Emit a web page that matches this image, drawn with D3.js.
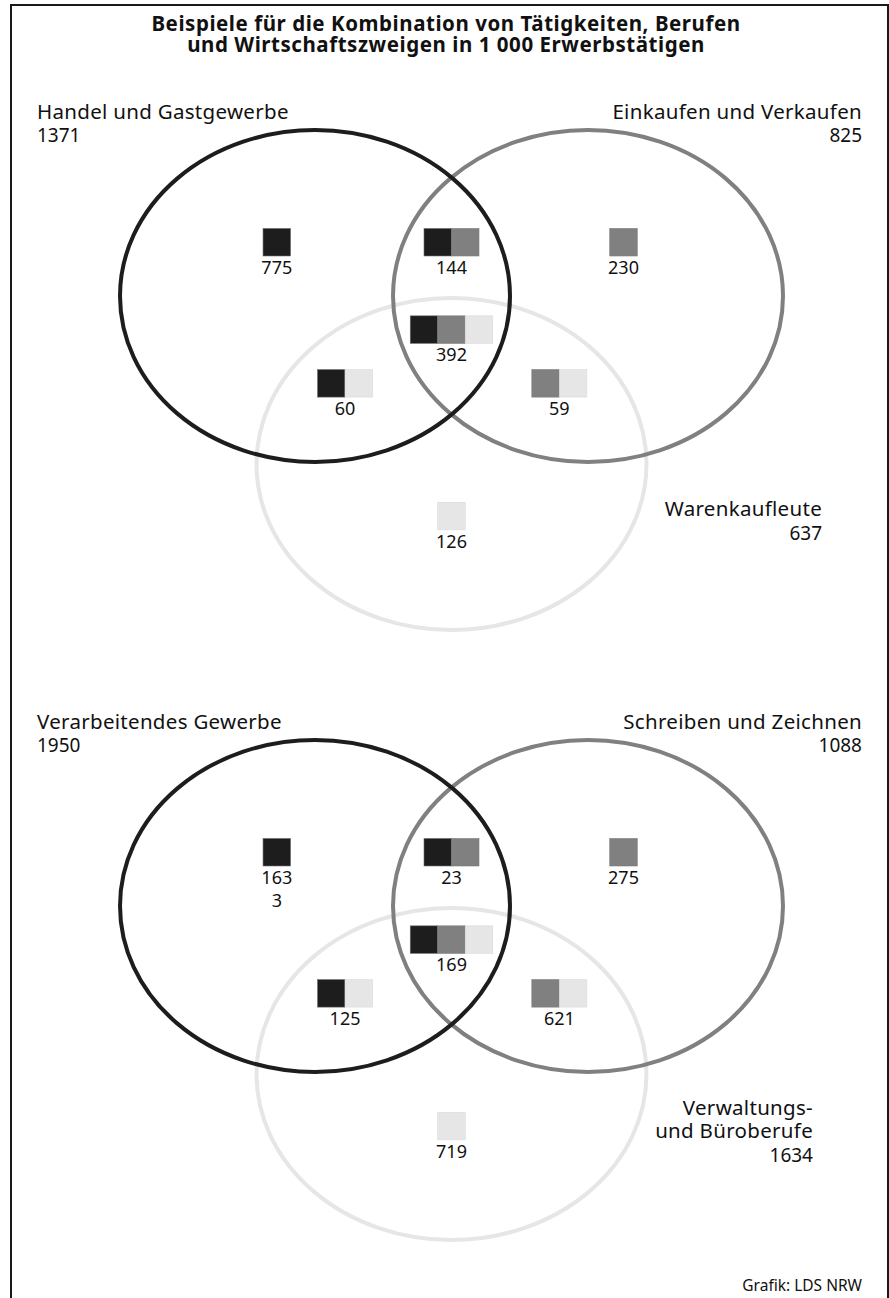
<!DOCTYPE html>
<html>
<head>
<meta charset="utf-8">
<script src="https://cdn.jsdelivr.net/npm/d3@7"></script>
<style>
  body { margin: 0; background: #fff; }
  svg text { font-family: "Noto Sans", "Open Sans", sans-serif; fill: #111; }
</style>
</head>
<body>
<script>
// titles
const titleLines = ["Beispiele für die Kombination von Tätigkeiten, Berufen",
                    "und Wirtschaftszweigen in 1 000 Erwerbstätigen"];
const source = "Grafik: LDS NRW";

// set keys, shared by both diagrams
const setKeys = ["A", "B", "C"];
const setColors = ["#1d1d1d", "#808080", "#e6e6e6"];

// regions of each venn (which sets they belong to)
const regionSets = [["A"], ["A", "B"], ["B"], ["A", "B", "C"], ["A", "C"], ["B", "C"], ["C"]];

// diagram 1
const names1 = ["Handel und Gastgewerbe", "Einkaufen und Verkaufen", "Warenkaufleute"];
const totals1 = [1371, 825, 637];
const values1 = [775, 144, 230, 392, 60, 59, 126];

// diagram 2
const names2 = ["Verarbeitendes Gewerbe", "Schreiben und Zeichnen", "Verwaltungs-\nund Büroberufe"];
const totals2 = [1950, 1088, 1634];
const values2 = [1633, 23, 275, 169, 125, 621, 719];

const width = 889, height = 1298;

const svg = d3.select("body").append("svg")
  .attr("width", width)
  .attr("height", height);

// frame (open at the bottom)
svg.append("path")
  .attr("d", `M11,${height} V5 H888 V${height}`)
  .attr("fill", "none")
  .attr("stroke", "#1a1a1a")
  .attr("stroke-width", 2);

svg.append("g").selectAll("text")
  .data(titleLines)
  .enter().append("text")
  .attr("x", 446)
  .attr("y", (d, i) => 31 + i * 20.5)
  .attr("text-anchor", "middle")
  .attr("font-weight", "bold")
  .attr("font-size", 20.5)
  .attr("letter-spacing", 0.55)
  .text(d => d);

svg.append("text")
  .attr("x", 862)
  .attr("y", 1291)
  .attr("text-anchor", "end")
  .attr("font-size", 15.5)
  .text(source);

// venn layout in unit coords: set A at -1, B at +1, C below
const setCenters = { A: [-1, 0], B: [1, 0], C: [0, 1] };
const regionPos = [[-1.28, -0.32], [0, -0.32], [1.26, -0.32], [0, 0.2], [-0.78, 0.52], [0.79, 0.52], [0, 1.31]];
const sq = 27.5;

function splitDigits(v) {
  // long numbers wrap after three digits, as in the original box
  const s = String(v), out = [];
  for (let i = 0; i < s.length; i += 3) out.push(s.slice(i, i + 3));
  return out;
}

function venn(offsetY, names, totals, values, cLabelRight) {
  const x = d3.scaleLinear().domain([-1, 1]).range([315, 588]);
  const y = d3.scaleLinear().domain([0, 1]).range([296 + offsetY, 464 + offsetY]);
  const color = d3.scaleOrdinal().domain(setKeys).range(setColors);

  const g = svg.append("g");

  // ellipses: light first, then grey, then black
  g.selectAll("ellipse")
    .data(["C", "B", "A"])
    .enter().append("ellipse")
    .attr("cx", d => x(setCenters[d][0]))
    .attr("cy", d => y(setCenters[d][1]))
    .attr("rx", 195)
    .attr("ry", 166)
    .attr("fill", "none")
    .attr("stroke", d => color(d))
    .attr("stroke-width", 4);

  const regions = regionSets.map((s, i) => ({ sets: s, value: values[i], pos: regionPos[i] }));

  const rg = g.selectAll(".region")
    .data(regions)
    .enter().append("g")
    .attr("class", "region")
    .attr("transform", d => `translate(${x(d.pos[0])},${y(d.pos[1])})`);

  rg.selectAll("rect")
    .data(d => d.sets.map((k, j) => ({ k, j, n: d.sets.length })))
    .enter().append("rect")
    .attr("x", d => -d.n * sq / 2 + d.j * sq)
    .attr("y", -sq / 2)
    .attr("width", sq)
    .attr("height", sq)
    .attr("fill", d => color(d.k))
    .attr("stroke", d => d.k === "A" ? "#6a6a6a" : d3.color(color(d.k)).darker(0.15))
    .attr("stroke-width", 0.6);

  rg.selectAll("text")
    .data(d => splitDigits(d.value))
    .enter().append("text")
    .attr("x", 0)
    .attr("y", (d, i) => sq / 2 + 18 + i * 23)
    .attr("text-anchor", "middle")
    .attr("font-size", 18)
    .text(d => d);

  // set labels: name lines, then total
  const nameSize = 20.5, totalSize = 19, ls = 0.3;

  const labelA = [names[0], totals[0]];
  g.selectAll(".labA")
    .data(labelA)
    .enter().append("text")
    .attr("class", "labA")
    .attr("x", 37)
    .attr("y", (d, i) => 119 + offsetY + i * 23)
    .attr("font-size", (d, i) => i === 0 ? nameSize : totalSize)
    .attr("letter-spacing", (d, i) => i === 0 ? ls : 0)
    .text(d => d);

  const labelB = [names[1], totals[1]];
  g.selectAll(".labB")
    .data(labelB)
    .enter().append("text")
    .attr("class", "labB")
    .attr("x", 862)
    .attr("y", (d, i) => 119 + offsetY + i * 23)
    .attr("text-anchor", "end")
    .attr("font-size", (d, i) => i === 0 ? nameSize : totalSize)
    .attr("letter-spacing", (d, i) => i === 0 ? ls : 0)
    .text(d => d);

  const nameLines = names[2].split("\n");
  const labelC = nameLines.concat([totals[2]]);
  const cTop = 528 - (labelC.length - 1) * 23.5 / 2;
  g.selectAll(".labC")
    .data(labelC)
    .enter().append("text")
    .attr("class", "labC")
    .attr("x", cLabelRight)
    .attr("y", (d, i) => cTop + offsetY + i * 23.5)
    .attr("text-anchor", "end")
    .attr("font-size", (d, i) => i < nameLines.length ? nameSize : totalSize)
    .attr("letter-spacing", (d, i) => i < nameLines.length ? ls : 0)
    .text(d => d);
}

venn(0, names1, totals1, values1, 822);
venn(610, names2, totals2, values2, 813);
</script>
</body>
</html>
